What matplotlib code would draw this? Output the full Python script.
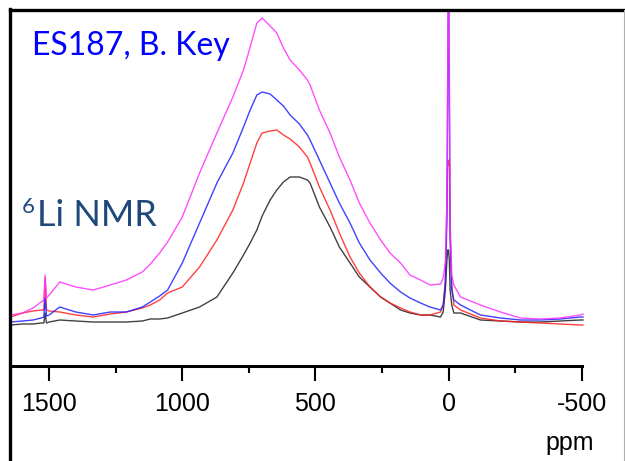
import matplotlib
matplotlib.use("Agg")
import matplotlib.pyplot as plt
from matplotlib import font_manager
from matplotlib.lines import Line2D
from matplotlib.ticker import FixedLocator

# ---- data ----
ppm = [1645, 1600, 1560, 1530, 1520, 1515, 1510, 1500, 1460, 1400, 1335, 1270, 1210, 1150,
       1120, 1085, 1055, 1000, 935, 870, 810, 770, 745, 720, 700, 670, 645, 620, 595, 560,
       530, 520, 485, 445, 410, 370, 335, 295, 255, 220, 180, 145, 105, 70, 30, 20, 12, 6,
       3, 0, -3, -6, -12, -20, -45, -120, -195, -270, -345, -420, -495, -505]

magenta = [51, 53, 58, 64, 66, 91, 68, 71, 84, 79, 76, 81, 86, 94, 102, 113, 124,
           149, 193, 233, 269, 296, 319, 343, 348, 340, 333,
           318, 306, 296, 286, 281, 256, 233, 209, 186, 163,
           143, 126, 113, 103, 91, 86, 81, 82,
           88, 104, 166, 306, 416, 306, 146, 91, 81,
           69, 61, 54, 48, 47, 48, 51, 52]

blue = [44, 45, 46, 48, 49, 68, 50, 51, 59, 54, 51, 54, 54, 59, 64, 70, 76,
        103, 143, 183, 213, 239, 256, 271, 274, 272, 266,
        260, 251, 242, 231, 226, 206, 183, 163, 143, 123,
        106, 93, 83, 74, 68, 63, 59, 56,
        61, 81, 146, 286, 416, 266, 126, 76, 66,
        61, 51, 48, 46, 46, 47, 49, 49]

red = [49, 53, 55, 56, 56, 88, 56, 55, 54, 51, 49, 52, 54, 58, 61, 66, 73,
       79, 99, 126, 156, 183, 203, 223, 233, 235, 236,
       231, 227, 219, 209, 203, 179, 156, 133, 109, 93,
       79, 69, 63, 58, 54, 51, 51, 54,
       61, 86, 166, 206, 201, 206, 136, 81, 61,
       56, 48, 45, 44, 43, 42, 41, 41]

black = [41, 42, 42, 43, 43, 53, 43, 44, 46, 45, 44, 44, 44, 45, 47, 47, 48,
         53, 59, 69, 93, 111, 123, 136, 150, 166, 176,
         184, 189, 189, 186, 183, 159, 139, 119, 103, 89,
         79, 69, 63, 56, 53, 51, 51, 49,
         54, 76, 106, 116, 116, 106, 76, 61, 53,
         53, 46, 45, 44, 44, 45, 46, 46]

major_ticks = [1500, 1000, 500, 0, -500]
minor_ticks = [1250, 750, 250, -250]
tick_labels = ["1500", "1000", "500", "0", "-500"]

# ---- fonts ----
names = {f.name for f in font_manager.fontManager.ttflist}
if "Liberation Sans Narrow" in names:
    axis_font, axis_size = "Liberation Sans Narrow", 20
else:
    axis_font, axis_size = "Liberation Sans", 18
label_font = "Lato"

W, H = 625, 461
fig = plt.figure(figsize=(W / 100, H / 100), dpi=100)
ax = fig.add_axes([10 / W, 1 - 366 / H, 614 / W, 356 / H])

ax.plot(ppm, black, color="#202020", lw=1.0, alpha=0.85)
ax.plot(ppm, red, color="#ff2020", lw=1.0, alpha=0.85)
ax.plot(ppm, blue, color="#2020ff", lw=1.0, alpha=0.85)
ax.plot(ppm, magenta, color="#ff30ff", lw=1.0, alpha=0.85)

ax.set_xlim(1647, -659)
ax.set_ylim(0, 356)

ax.xaxis.set_major_locator(FixedLocator(major_ticks))
ax.set_xticklabels(tick_labels, fontfamily=axis_font, fontsize=axis_size)
ax.xaxis.set_minor_locator(FixedLocator(minor_ticks))
ax.tick_params(axis="x", which="major", direction="out", length=11, width=1.5, pad=8, color="black")
ax.tick_params(axis="x", which="minor", direction="out", length=5, width=1.5, color="black")
ax.set_yticks([])

ax.spines["left"].set_visible(False)
ax.spines["right"].set_visible(False)
ax.spines["top"].set_linewidth(2.4)
ax.spines["top"].set_color("black")
ax.spines["bottom"].set_linewidth(2.2)
ax.spines["bottom"].set_bounds(-500, 1647)

# outer frame lines
fig.add_artist(Line2D([10 / W, 10 / W], [0, 1 - 9 / H], color="black", lw=2.4,
                      transform=fig.transFigure))
fig.add_artist(Line2D([624 / W, 624 / W], [0, 1 - 10 / H], color="#b0b0b0", lw=0.8,
                      transform=fig.transFigure))

# texts
fig.text(594 / W, 1 - 450 / H, "ppm", ha="right", va="baseline",
         fontfamily=axis_font, fontsize=axis_size)
fig.text(32 / W, 1 - 55 / H, "ES187, B. Key", ha="left", va="baseline",
         fontfamily=label_font, fontsize=23, color="#0000ff")
fig.text(37 / W, 1 - 226 / H, "Li NMR", ha="left", va="baseline",
         fontfamily=label_font, fontsize=26, color="#1f497d")
fig.text(22 / W, 1 - 213 / H, "6", ha="left", va="baseline",
         fontfamily=label_font, fontsize=16, color="#1f497d")

fig.savefig("out.png", dpi=100)
